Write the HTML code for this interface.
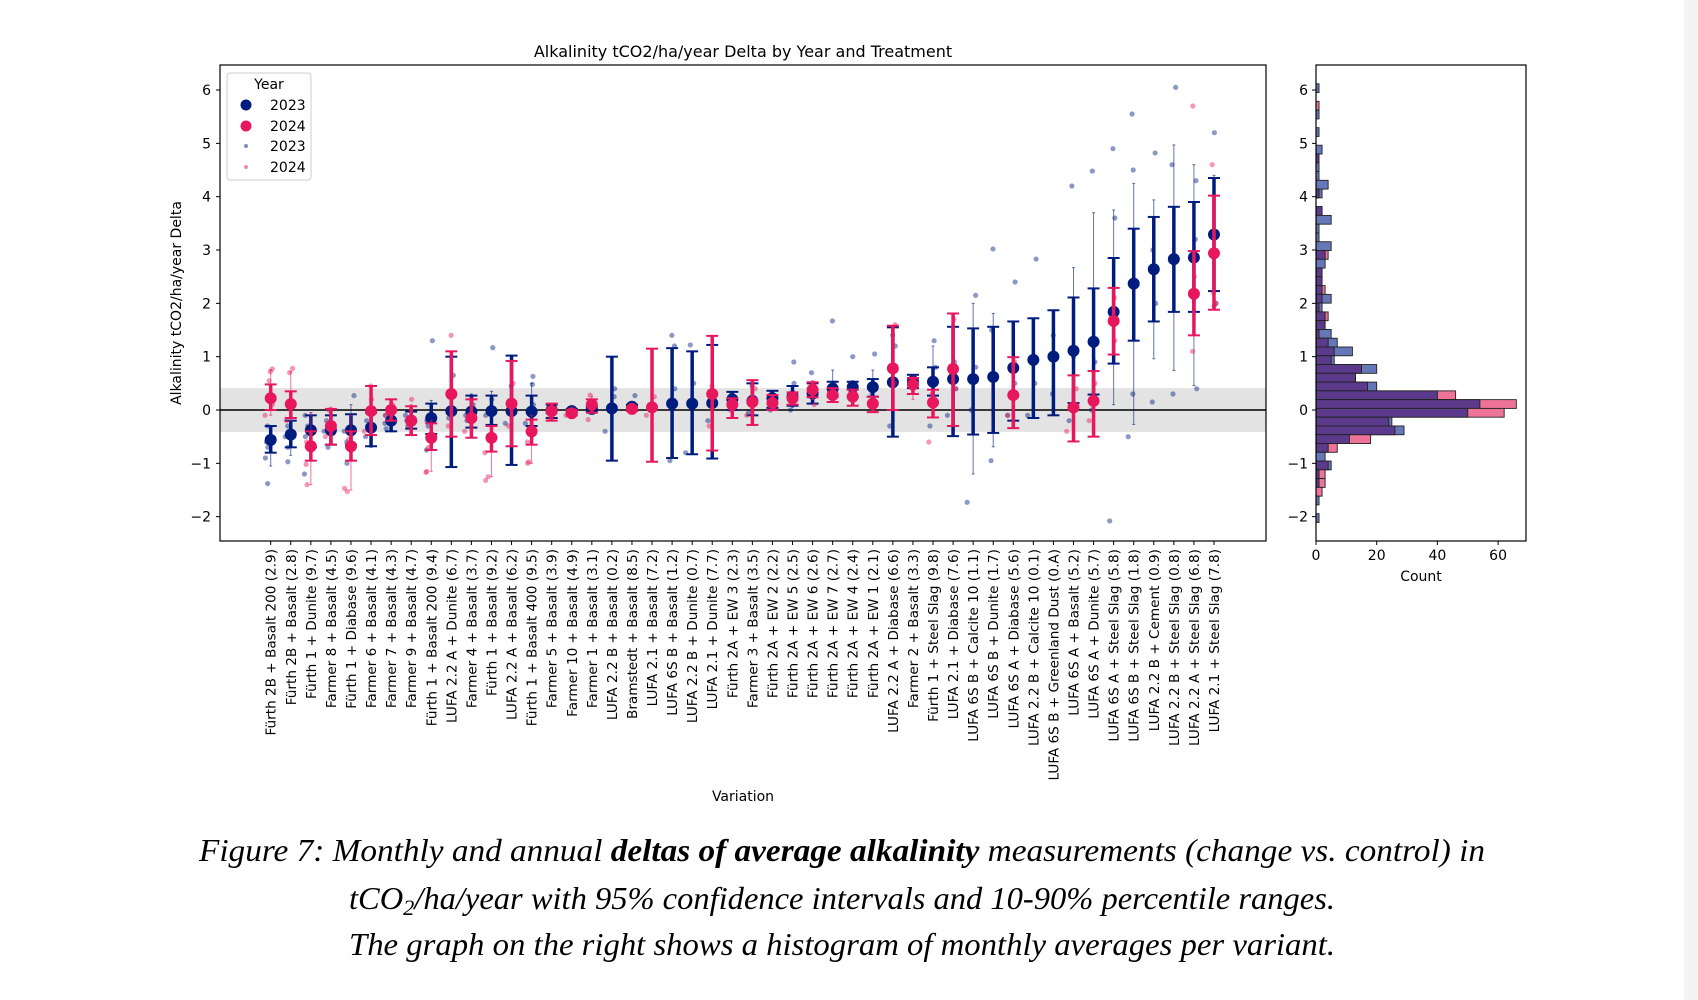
<!DOCTYPE html>
<html><head><meta charset="utf-8"><style>
html,body{margin:0;padding:0;background:#fff;}
svg{display:block;}
text{font-family:"DejaVu Sans","Liberation Sans",sans-serif;fill:#000;}
.cap{font-family:"Liberation Serif",serif;font-style:italic;font-size:32px;}
</style></head><body>
<svg id="fig" width="1698" height="1000" viewBox="0 0 1698 1000" xmlns="http://www.w3.org/2000/svg">
<rect x="1684" y="0" width="14" height="1000" fill="#f4f4f4"/>
<text x="743" y="57" font-size="16" text-anchor="middle">Alkalinity tCO2/ha/year Delta by Year and Treatment</text>
<text transform="translate(181,303) rotate(-90)" font-size="14" text-anchor="middle">Alkalinity tCO2/ha/year Delta</text>
<text x="743" y="801" font-size="14" text-anchor="middle">Variation</text>
<text x="1421" y="581" font-size="14" text-anchor="middle">Count</text>
<g id="main"></g>
<g id="hist"></g>
<g>
<rect x="227" y="73" width="84" height="107" rx="3" fill="#fff" fill-opacity="0.8" stroke="#ccc"/>
<text x="269" y="89" font-size="14" text-anchor="middle">Year</text>
<circle cx="246" cy="105" r="5.5" fill="#001c7f"/>
<text x="270" y="110" font-size="14">2023</text>
<circle cx="246" cy="126" r="5.5" fill="#e8175d"/>
<text x="270" y="131" font-size="14">2024</text>
<circle cx="246" cy="146" r="2" fill="#001c7f" fill-opacity="0.5"/>
<text x="270" y="151" font-size="14">2023</text>
<circle cx="246" cy="167" r="2" fill="#e8175d" fill-opacity="0.5"/>
<text x="270" y="172" font-size="14">2024</text>
</g>
<g>
<text class="cap" x="199" y="861" textLength="1286" lengthAdjust="spacingAndGlyphs">Figure 7: Monthly and annual <tspan font-weight="bold">deltas of average alkalinity</tspan> measurements (change vs. control) in</text>
<text class="cap" x="349" y="909" textLength="986" lengthAdjust="spacingAndGlyphs">tCO<tspan font-size="22" dy="6">2</tspan><tspan dy="-6">/ha/year with 95% confidence intervals and 10-90% percentile ranges.</tspan></text>
<text class="cap" x="349" y="955" textLength="986" lengthAdjust="spacingAndGlyphs">The graph on the right shows a histogram of monthly averages per variant.</text>
</g>
</svg>
<script>
const categories = ["Fürth 2B + Basalt 200 (2.9)","Fürth 2B + Basalt (2.8)","Fürth 1 + Dunite (9.7)","Farmer 8 + Basalt (4.5)","Fürth 1 + Diabase (9.6)","Farmer 6 + Basalt (4.1)","Farmer 7 + Basalt (4.3)","Farmer 9 + Basalt (4.7)","Fürth 1 + Basalt 200 (9.4)","LUFA 2.2 A + Dunite (6.7)","Farmer 4 + Basalt (3.7)","Fürth 1 + Basalt (9.2)","LUFA 2.2 A + Basalt (6.2)","Fürth 1 + Basalt 400 (9.5)","Farmer 5 + Basalt (3.9)","Farmer 10 + Basalt (4.9)","Farmer 1 + Basalt (3.1)","LUFA 2.2 B + Basalt (0.2)","Bramstedt + Basalt (8.5)","LUFA 2.1 + Basalt (7.2)","LUFA 6S B + Basalt (1.2)","LUFA 2.2 B + Dunite (0.7)","LUFA 2.1 + Dunite (7.7)","Fürth 2A + EW 3 (2.3)","Farmer 3 + Basalt (3.5)","Fürth 2A + EW 2 (2.2)","Fürth 2A + EW 5 (2.5)","Fürth 2A + EW 6 (2.6)","Fürth 2A + EW 7 (2.7)","Fürth 2A + EW 4 (2.4)","Fürth 2A + EW 1 (2.1)","LUFA 2.2 A + Diabase (6.6)","Farmer 2 + Basalt (3.3)","Fürth 1 + Steel Slag (9.8)","LUFA 2.1 + Diabase (7.6)","LUFA 6S B + Calcite 10 (1.1)","LUFA 6S B + Dunite (1.7)","LUFA 6S A + Diabase (5.6)","LUFA 2.2 B + Calcite 10 (0.1)","LUFA 6S B + Greenland Dust (0.A)","LUFA 6S A + Basalt (5.2)","LUFA 6S A + Dunite (5.7)","LUFA 6S A + Steel Slag (5.8)","LUFA 6S B + Steel Slag (1.8)","LUFA 2.2 B + Cement (0.9)","LUFA 2.2 B + Steel Slag (0.8)","LUFA 2.2 A + Steel Slag (6.8)","LUFA 2.1 + Steel Slag (7.8)"];
const mean2023 = [-0.56,-0.46,-0.38,-0.38,-0.38,-0.33,-0.2,-0.2,-0.15,-0.02,-0.03,-0.02,-0.02,-0.03,0.0,-0.02,0.02,0.03,0.06,null,0.12,0.12,0.13,0.2,0.17,0.22,0.25,0.31,0.4,0.43,0.43,0.52,0.54,0.53,0.58,0.58,0.62,0.79,0.94,1.0,1.11,1.28,1.84,2.37,2.64,2.83,2.86,3.29];
const ciLow2023 = [-0.8,-0.7,-0.7,-0.65,-0.65,-0.68,-0.4,-0.35,-0.45,-1.07,-0.33,-0.28,-1.03,-0.3,-0.15,-0.05,-0.02,-0.95,0.0,null,-0.9,-0.83,-0.91,0.0,-0.1,0.04,0.08,0.12,0.25,0.25,0.25,-0.5,0.41,0.27,-0.49,-0.46,-0.43,-0.2,-0.15,-0.1,0.13,0.29,0.87,1.3,1.66,1.84,1.84,2.23];
const ciHigh2023 = [-0.3,-0.2,-0.1,-0.1,-0.08,-0.05,0.0,-0.03,0.12,1.0,0.27,0.27,1.02,0.27,0.1,0.02,0.06,1.0,0.1,null,1.16,1.1,1.22,0.34,0.5,0.36,0.45,0.5,0.53,0.53,0.58,1.55,0.66,0.8,1.56,1.53,1.56,1.66,1.72,1.87,2.11,2.28,2.85,3.4,3.62,3.81,3.9,4.35];
const p10_2023 = [-1.05,-0.85,-0.75,-0.65,-0.95,-0.7,-0.4,-0.35,-0.75,-1.07,-0.35,-0.3,-1.03,-0.3,-0.15,-0.05,-0.02,-0.95,0.0,null,-0.9,-0.83,-0.91,0.0,-0.1,0.0,0.05,0.12,0.2,0.2,0.2,-0.5,0.41,0.27,-0.49,-1.2,-0.69,-0.2,-0.15,-0.1,0.13,0.29,0.1,-0.27,0.96,0.74,0.46,1.9];
const p90_2023 = [-0.3,-0.15,-0.05,-0.05,0.1,0.0,0.05,0.0,0.18,1.0,0.3,0.35,1.02,0.5,0.1,0.02,0.06,1.0,0.12,null,1.16,1.1,1.22,0.34,0.5,0.36,0.45,0.5,0.75,0.55,0.75,1.55,0.66,1.2,1.56,2.0,1.81,1.66,1.72,1.87,2.67,3.7,3.75,4.25,3.94,4.97,4.6,4.4];
const mean2024 = [0.22,0.11,-0.68,-0.3,-0.68,-0.02,0.0,-0.2,-0.52,0.3,-0.15,-0.52,0.12,-0.4,-0.02,-0.06,0.1,null,0.02,0.05,null,null,0.3,0.1,0.15,0.13,0.22,0.38,0.28,0.25,0.12,0.78,0.48,0.14,0.77,null,null,0.28,null,null,0.05,0.17,1.67,null,null,null,2.18,2.94];
const ciLow2024 = [0.0,-0.15,-0.95,-0.65,-0.95,-0.47,-0.2,-0.47,-0.75,-0.5,-0.52,-0.78,-0.68,-0.65,-0.2,-0.1,-0.05,null,-0.02,-0.97,null,null,-0.76,-0.15,-0.28,0.0,0.1,0.24,0.15,0.08,-0.04,0.0,0.3,-0.14,-0.3,null,null,-0.34,null,null,-0.59,-0.5,1.04,null,null,null,1.4,1.88];
const ciHigh2024 = [0.48,0.35,-0.4,0.02,-0.4,0.45,0.2,0.07,-0.25,1.1,0.2,-0.3,0.92,-0.18,0.12,0.0,0.2,null,0.06,1.15,null,null,1.39,0.22,0.56,0.28,0.33,0.52,0.41,0.38,0.25,1.58,0.6,0.38,1.81,null,null,0.99,null,null,0.65,0.73,2.29,null,null,null,2.98,4.02];
const p10_2024 = [-0.1,-0.2,-1.4,-0.65,-1.5,-0.47,-0.2,-0.47,-1.15,-0.5,-0.52,-1.25,-0.68,-1.0,-0.2,-0.12,-0.05,null,-0.02,-0.97,null,null,-0.76,-0.15,-0.28,0.0,0.1,0.2,0.15,0.08,-0.04,0.0,0.2,-0.14,-0.3,null,null,-0.34,null,null,-0.59,-0.5,1.04,null,null,null,1.4,1.88];
const p90_2024 = [0.75,0.72,-0.05,0.05,-0.1,0.45,0.2,0.1,-0.2,1.1,0.2,-0.3,0.92,-0.1,0.12,0.02,0.25,null,0.06,1.15,null,null,1.39,0.22,0.56,0.28,0.33,0.55,0.41,0.38,0.25,1.58,0.6,0.38,1.81,null,null,0.99,null,null,0.65,0.73,2.29,null,null,null,2.98,4.02];
const points2023 = [[-1.38,-0.3,-0.6,-0.7,-0.9],[-0.97,-0.3,-0.5,-0.7],[-1.2,-0.1,-0.3,-0.5],[-0.7,-0.2,-0.4],[-1.0,0.27,-0.4,-0.6],[-0.5,-0.2,-0.3],[-0.35,-0.1,-0.25],[-0.3,-0.1,-0.2],[1.3,-0.75,-0.2,-0.3],[0.65,0.0,-0.15,0.3],[-0.2,0.1,-0.1],[1.17,0.2,-0.1],[0.45,-0.25,0.1],[0.63,0.48,-0.25,0.1],[-0.05,0.05],[0.0],[0.0,0.05],[0.4,-0.4,0.25],[0.27,0.05],[],[1.4,-0.95,1.2,0.4],[1.22,-0.8,0.5],[0.3,-0.2],[0.3,0.05],[0.45,-0.05],[0.3,0.0],[0.9,0.0,0.5],[0.7,0.3],[1.67,0.5],[1.0,0.4],[1.05,0.3],[1.2,1.4,-0.3],[0.6],[1.3,-0.3,0.8],[0.9,0.4,-0.1],[2.15,-1.73,0.8,0.0],[3.02,-0.95,1.5],[2.4,0.5,-0.1],[2.83,-0.1,0.5],[0.3,1.4],[4.2,-0.2,1.0],[4.48,0.9,0.0],[4.9,3.6,-2.08],[4.5,-0.5,0.3,5.55],[4.82,3.0,0.15,2.0],[6.05,4.6,0.3],[4.3,0.4,3.2],[5.2,2.0,1.95]];
const points2024 = [[0.77,0.72,0.55,0.1,-0.1],[0.78,0.7,-0.2],[-1.4,-1.02,-0.6],[0.0,-0.5],[-1.47,-1.53,-0.55],[0.45,0.2,-0.4],[0.1,-0.1],[0.2,-0.3],[-1.17,-1.15,-0.7],[1.4,0.35,-0.3],[0.2,-0.4],[-1.32,-1.25,-0.8],[0.5,-0.3],[-0.97,-1.0,-0.6],[-0.15,0.05],[-0.1],[0.28,-0.18],[],[0.0],[0.25,-0.1],[],[],[0.45,-0.3],[0.0],[0.4,-0.1],[0.2],[0.3],[0.5,0.1],[0.3],[0.2],[0.2],[1.6,0.5],[0.6],[-0.6,0.3],[1.7,0.4],[],[],[0.9,-0.1],[],[],[0.4,-0.4],[0.5,-0.2],[2.1,1.3],[],[],[],[5.7,1.1,2.5],[4.6,2.2,2.0]];
const yTicks = [-2,-1,0,1,2,3,4,5,6];
const yTickLabels = ["\u22122","\u22121","0","1","2","3","4","5","6"];
const bandLow = -0.41, bandHigh = 0.41;
// histogram
const binIndex = [36,34,33,31,29,28,27,26,25,24,22,21,20,19,18,17,16,15,14,13,12,11,10,9,8,7,6,5,4,3,2,1,0,-1,-2,-3,-4,-5,-6,-7,-8,-9,-10,-11,-13];
const count2023 = [1,0,1,1,2,1,1,1,4,2,2,5,1,1,5,3,3,2,2,2,5,2,3,3,5,7,12,6,20,13,20,40,54,50,25,29,11,4,3,5,1,1,0,1,1];
const count2024 = [0,1,0,0,0,1,0,0,0,1,2,0,0,0,0,4,0,2,2,3,2,1,4,3,1,4,6,5,15,13,17,46,66,62,24,26,18,7,0,4,3,3,2,0,0];
const binWidth = 0.1645, binCenter0 = 0.112;
const countTicks = [0,20,40,60];

const NS = "http://www.w3.org/2000/svg";
function mk(tag, attrs, parent){const e=document.createElementNS(NS,tag);for(const k in attrs)e.setAttribute(k,attrs[k]);parent.appendChild(e);return e;}
// axes
const Y0 = 410, YU = 53.33, PT = 65, PB = 541;
const yScale = v => Y0 - v*YU;
const xScale = i => 270.7 + i*20.07;
const hx = c => 1316 + c*3.035;
const main = document.getElementById('main');
const hist = document.getElementById('hist');

let el = mk('rect',{x:220,y:yScale(bandHigh),width:1046,height:yScale(bandLow)-yScale(bandHigh),fill:'#e3e3e3'},main);


el = mk('line',{x1:220,x2:1266,y1:yScale(0),y2:yScale(0),stroke:'#000','stroke-width':1.5},main);



const colors = {a:'#001c7f', b:'#e8175d'};
function drawSeries(i, m, cl, ch, pl, ph, pts, col, tag){
  if(m===null) return;
  const x = xScale(i);
  const g = mk('g',{},main);
  
  
  pts.forEach(v=>{
    const c = mk('circle',{cx:x+((v*37)%5-2),cy:yScale(v),r:2.6,fill:col,'fill-opacity':0.45},g);
    
    
  });
  let l = mk('line',{x1:x,x2:x,y1:yScale(pl),y2:yScale(ph),stroke:col,'stroke-width':1,'stroke-opacity':0.6},g);
  
  
  [pl,ph].forEach(v=>{const t=mk('line',{x1:x-1.5,x2:x+1.5,y1:yScale(v),y2:yScale(v),stroke:col,'stroke-width':1,'stroke-opacity':0.6},g);
    
    });
  l = mk('line',{x1:x,x2:x,y1:yScale(cl),y2:yScale(ch),stroke:col,'stroke-width':3.5},g);
  
  
  [cl,ch].forEach(v=>{const t=mk('line',{x1:x-6,x2:x+6,y1:yScale(v),y2:yScale(v),stroke:col,'stroke-width':2},g);
    
    });
  const c = mk('circle',{cx:x,cy:yScale(m),r:6,fill:col},g);
  
  
}
categories.forEach((name,i)=>{
  drawSeries(i,mean2023[i],ciLow2023[i],ciHigh2023[i],p10_2023[i],p90_2023[i],points2023[i],colors.a,'2023');
  drawSeries(i,mean2024[i],ciLow2024[i],ciHigh2024[i],p10_2024[i],p90_2024[i],points2024[i],colors.b,'2024');
  const x = xScale(i);
  const t = mk('line',{x1:x,x2:x,y1:PB,y2:PB+4,stroke:'#000','stroke-width':1},main);
  
  
  const tx = mk('text',{transform:`translate(${x+5},549) rotate(-90)`,'font-size':13.6,'text-anchor':'end'},main);
  tx.textContent = name;
  
  
});
yTicks.forEach((v,k)=>{
  let t = mk('line',{x1:216,x2:220,y1:yScale(v),y2:yScale(v),stroke:'#000'},main);
  
  
  let tx = mk('text',{x:211,y:yScale(v)+5,'font-size':14,'text-anchor':'end'},main);
  tx.textContent = yTickLabels[k];
  
  
  t = mk('line',{x1:1312,x2:1316,y1:yScale(v),y2:yScale(v),stroke:'#000'},hist);
  
  
  tx = mk('text',{x:1308,y:yScale(v)+5,'font-size':14,'text-anchor':'end'},hist);
  tx.textContent = yTickLabels[k];
  
  
});
el = mk('rect',{x:220,y:PT,width:1046,height:PB-PT,fill:'none',stroke:'#000','stroke-width':1.2},main);



// histogram bars
binIndex.forEach((k,j)=>{
  const c = binCenter0 + k*binWidth;
  const yT = yScale(c+binWidth/2), h = binWidth*YU;
  const a = count2023[j], b = count2024[j];
  const hi = Math.max(a,b), lo = Math.min(a,b);
  if(hi>0){
    const r = mk('rect',{x:1316,y:yT,width:hx(hi)-1316,height:h,fill:a>=b?'#6577b6':'#ee7399',stroke:'#222','stroke-width':0.9},hist);
    
    
  }
  if(lo>0){
    const r = mk('rect',{x:1316,y:yT,width:hx(lo)-1316,height:h,fill:'#5b3a8b',stroke:'#222','stroke-width':0.9},hist);
    
    
  }
});
countTicks.forEach(c=>{
  const t = mk('line',{x1:hx(c),x2:hx(c),y1:PB,y2:PB+4,stroke:'#000'},hist);
  
  
  const tx = mk('text',{x:hx(c),y:PB+19,'font-size':14,'text-anchor':'middle'},hist);
  tx.textContent = String(c);
  
  
});
el = mk('rect',{x:1316,y:PT,width:210,height:PB-PT,fill:'none',stroke:'#000','stroke-width':1.2},hist);


</script>
</body></html>
